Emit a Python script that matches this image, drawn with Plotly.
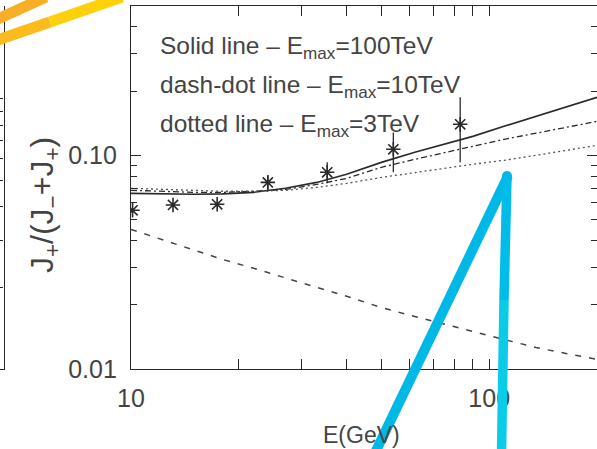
import math
import plotly.graph_objects as go

# Model curves: J+/(J- + J+) versus energy for three cut-off energies
energy = [10, 12, 15, 18, 22, 27, 33, 40, 50, 62, 75, 90, 110, 135, 165, 200]
ratio_emax_100tev = [0.0664, 0.0660, 0.0657, 0.0660, 0.0671, 0.0701, 0.0747, 0.0815,
                     0.0927, 0.1033, 0.1126, 0.1227, 0.1367, 0.1523, 0.1697, 0.1869]
ratio_emax_10tev = [0.0686, 0.0679, 0.0671, 0.0671, 0.0679, 0.0693, 0.0731, 0.0780,
                    0.0879, 0.0958, 0.1033, 0.1102, 0.1188, 0.1268, 0.1352, 0.1442]
ratio_emax_3tev = [0.0701, 0.0693, 0.0686, 0.0679, 0.0679, 0.0686, 0.0708, 0.0739,
                   0.0788, 0.0833, 0.0869, 0.0908, 0.0948, 0.1000, 0.1055, 0.1114]
ratio_dashed = [0.0450, 0.0408, 0.0359, 0.0326, 0.0296, 0.0266, 0.0241, 0.0219,
                0.0194, 0.0176, 0.0162, 0.0150, 0.0138, 0.0126, 0.0118, 0.0111]

# Measured ratio with asymmetric errors
obs_energy = [10.1, 13.1, 17.4, 24.1, 35.3, 54.0, 83.0]
obs_ratio = [0.0553, 0.0586, 0.0590, 0.0747, 0.0833, 0.1067, 0.1397]
obs_err_up = [0, 0, 0, 0.0059, 0.0094, 0.0213, 0.0473]
obs_err_down = [0, 0, 0, 0.0069, 0.0093, 0.0234, 0.0470]

# Axis ticks
x_major = [10, 100]
x_major_text = ["10", "100"]
x_minor = [20, 30, 40, 50, 60, 70, 80, 90, 200]
y_major = [0.01, 0.1]
y_major_text = ["0.01", "0.10"]
y_minor = [0.02, 0.03, 0.04, 0.05, 0.06, 0.07, 0.08, 0.09, 0.2, 0.3, 0.4, 0.5]
side_panel_ticks = [2, 3, 4, 5, 6, 7, 8, 9, 10, 20]

W, H = 597, 449
M_T, M_B = 6, 80
PLOT_LEFT = 131
INK = "#2a2a2a"
TEXT = "#444444"
FONT = "Liberation Sans"


def px(x):
    return x / W


def py(y):
    return (H - M_B - y) / (H - M_T - M_B)


fig = go.Figure()

fig.add_trace(go.Scatter(x=energy, y=ratio_emax_100tev, mode="lines",
                         line=dict(color=INK, width=1.6)))
fig.add_trace(go.Scatter(x=energy, y=ratio_emax_10tev, mode="lines",
                         line=dict(color=INK, width=1.3, dash="6px,3px,2px,3px")))
fig.add_trace(go.Scatter(x=energy, y=ratio_emax_3tev, mode="lines",
                         line=dict(color="#555555", width=1.3, dash="2px,3px")))
fig.add_trace(go.Scatter(x=energy, y=ratio_dashed, mode="lines",
                         line=dict(color="#444444", width=1.5, dash="6px,8px")))
fig.add_trace(go.Scatter(
    x=obs_energy, y=obs_ratio, mode="markers",
    marker=dict(symbol="asterisk-open", size=12, color=INK,
                line=dict(color=INK, width=1.6)),
    error_y=dict(type="data", symmetric=False, array=obs_err_up,
                 arrayminus=obs_err_down, color=INK, thickness=1.3, width=0),
))
# carriers for the right-hand tick axis and the neighbouring panel edge
fig.add_trace(go.Scatter(x=energy, y=ratio_emax_100tev, mode="none",
                         yaxis="y2", hoverinfo="skip"))
fig.add_trace(go.Scatter(x=[1, 2], y=[1, 10], mode="none",
                         xaxis="x3", yaxis="y3", hoverinfo="skip"))

tick_font = dict(family=FONT, size=25, color=TEXT)

fig.update_layout(
    width=W, height=H,
    margin=dict(l=0, r=0, t=M_T, b=M_B, pad=0, autoexpand=False),
    paper_bgcolor="white", plot_bgcolor="white",
    showlegend=False,
    xaxis=dict(
        domain=[PLOT_LEFT / W, 1], type="log",
        range=[1, math.log10(200)],
        showline=True, linecolor=INK, linewidth=1.3, mirror="allticks",
        ticks="inside", ticklen=10, tickwidth=1.2, tickcolor=INK,
        tickvals=x_major, ticktext=x_major_text, tickfont=tick_font,
        ticklabelstandoff=7,
        minor=dict(tickvals=x_minor, ticks="inside", ticklen=5,
                   tickwidth=1.2, tickcolor=INK, showgrid=False),
        showgrid=False, zeroline=False, automargin=False,
    ),
    yaxis=dict(
        domain=[0, 1], type="log",
        range=[-2, math.log10(0.5)],
        showline=True, linecolor=INK, linewidth=1.3,
        ticks="inside", ticklen=10, tickwidth=1.2, tickcolor=INK,
        tickvals=y_major, ticktext=y_major_text, tickfont=tick_font,
        ticklabelstandoff=8,
        minor=dict(tickvals=y_minor, ticks="inside", ticklen=6,
                   tickwidth=1.2, tickcolor=INK, showgrid=False),
        showgrid=False, zeroline=False, automargin=False,
    ),
    yaxis2=dict(
        overlaying="y", side="right", anchor="x", type="log",
        range=[-2, math.log10(0.5)],
        showline=False, showticklabels=False,
        ticks="inside", ticklen=10, tickwidth=1.2, tickcolor=INK,
        tickvals=y_major,
        minor=dict(tickvals=y_minor, ticks="inside", ticklen=6,
                   tickwidth=1.2, tickcolor=INK, showgrid=False),
        showgrid=False, zeroline=False, automargin=False,
    ),
    xaxis3=dict(
        domain=[0, 3.5 / W], anchor="y3", range=[1, 2],
        showline=True, linecolor=INK, linewidth=1.3,
        showticklabels=False, ticks="", showgrid=False, zeroline=False,
        automargin=False,
    ),
    yaxis3=dict(
        domain=[0, 1], anchor="x3", side="right", type="log",
        range=[0, 1.344],
        showline=True, linecolor=INK, linewidth=1.3,
        ticks="inside", ticklen=8, tickwidth=1.2, tickcolor=INK,
        tickvals=side_panel_ticks, showticklabels=False,
        showgrid=False, zeroline=False, automargin=False,
    ),
)

legend_font = dict(family=FONT, size=24.5, color=TEXT)
legend_lines = [
    "Solid line – E<sub>max</sub>=100TeV",
    "dash-dot line – E<sub>max</sub>=10TeV",
    "dotted line – E<sub>max</sub>=3TeV",
]
for i, txt in enumerate(legend_lines):
    fig.add_annotation(text=txt, xref="paper", yref="paper",
                       x=px(158), y=py(48 + 38.5 * i), xanchor="left",
                       yanchor="middle", showarrow=False, font=legend_font)

fig.add_annotation(
    text="J<sub>+</sub>/(J<sub>−</sub>+J<sub>+</sub>)",
    xref="paper", yref="paper", x=px(44), y=py(205),
    xanchor="center", yanchor="middle", textangle=-90,
    showarrow=False, font=dict(family=FONT, size=32, color=TEXT),
)
fig.add_annotation(
    text="E(GeV)", xref="paper", yref="paper", x=px(361), y=py(450),
    xanchor="center", yanchor="bottom", showarrow=False,
    font=dict(family=FONT, size=23, color=TEXT),
)

# Highlighter strokes drawn over the figure
def stroke(x0, y0, x1, y1, color, width):
    fig.add_shape(type="line", xref="paper", yref="paper",
                  x0=px(x0), y0=py(y0), x1=px(x1), y1=py(y1),
                  line=dict(color=color, width=width), layer="above")

stroke(-10, 22.6, 46, -3, "#F8AE25", 11)
stroke(-10, 42.5, 50, 22.0, "#FCBB1C", 11)
stroke(50, 22.0, 122, -3.0, "#FFD00C", 11)

stroke(374, 455, 508, 176, "#00B8E6", 10)
stroke(507, 176, 504, 300, "#00BCE8", 9.5)
stroke(504, 300, 501.5, 455, "#0ACBE8", 9.5)
fig.add_shape(type="circle", xref="paper", yref="paper",
              x0=px(502), y0=py(181), x1=px(512), y1=py(171),
              fillcolor="#00B9E7", line=dict(width=0), layer="above")

fig.write_html("out.html")
